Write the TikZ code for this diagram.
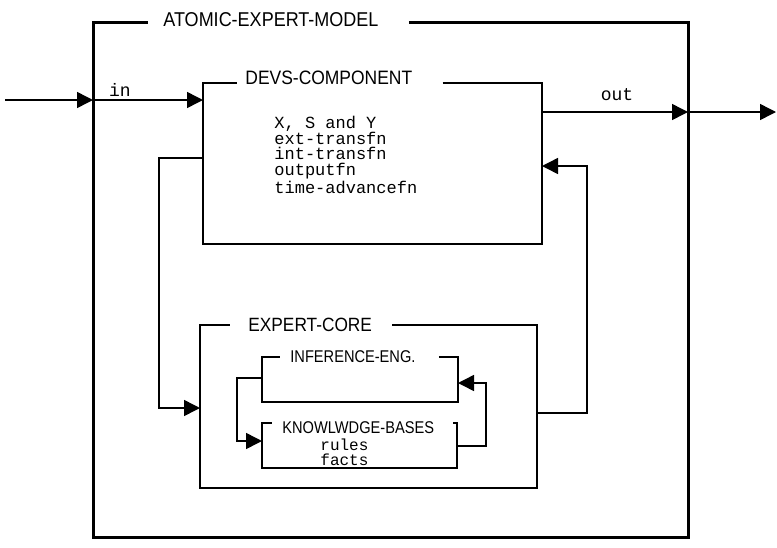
\documentclass[tikz,border=0pt]{standalone}
\usepackage{fontspec}
\usepackage{tikz}
\usetikzlibrary{arrows.meta, fit, calc}
\newfontfamily\titlefont[FakeStretch=0.9]{Liberation Sans}
\newfontfamily\narrowfont[FakeStretch=0.86]{Liberation Sans}
\newfontfamily\codefont{Liberation Mono}

\begin{document}
\begin{tikzpicture}[x=0.5pt, y=-0.5pt,
    box/.style={rectangle, inner sep=0pt, outer sep=0pt},
    title/.style={anchor=west, inner sep=0pt, font=\titlefont\fontsize{9.7}{11}\selectfont},
    subtitle/.style={anchor=west, inner sep=0pt, font=\narrowfont\fontsize{8.5}{10}\selectfont},
    code/.style={inner sep=0pt, align=left, font=\codefont\fontsize{8.5}{7.75}\selectfont},
    frame/.style={line width=0.8pt, line join=miter},
    link/.style={line width=0.75pt},
    arr/.style={link, -{Triangle[length=8pt, width=8pt]}}]

  \useasboundingbox (0,0) rectangle (777,547);

  % boxes
  \node[box, fit={(93,22) (688,537)}] (model) {};
  \node[box, fit={(203,83) (542,244)}] (devs) {};
  \node[box, fit={(200,325) (537,488)}] (core) {};
  \node[box, fit={(262,357) (458,402)}] (infeng) {};
  \node[box, fit={(262,423) (457,468)}] (kbases) {};

  % titles on the top edges
  \node[title, font=\titlefont\fontsize{10}{12}\selectfont] (modeltitle) at (163,20) {ATOMIC-EXPERT-MODEL};
  \node[title] (devstitle) at (245,78) {DEVS-COMPONENT};
  \node[title, font=\titlefont\fontsize{9.6}{11}\selectfont] (coretitle) at (248,325) {EXPERT-CORE};
  \node[subtitle] (inftitle) at (290,357) {INFERENCE-ENG.};
  \node[subtitle] (kbtitle) at (282,428) {KNOWLWDGE-BASES};

  % frames, open where the titles are
  \draw[frame, line width=1.5pt, shorten <=15pt, shorten >=7.5pt]
    (modeltitle.east |- model.north) -- (model.north east) -- (model.south east)
    -- (model.south west) -- (model.north west) -- (modeltitle.west |- model.north);
  \draw[frame, line width=1pt, shorten <=15pt, shorten >=4pt]
    (devstitle.east |- devs.north) -- (devs.north east) -- (devs.south east)
    -- (devs.south west) -- (devs.north west) -- (devstitle.west |- devs.north);
  \draw[frame, shorten <=10pt, shorten >=9pt]
    (coretitle.east |- core.north) -- (core.north east) -- (core.south east)
    -- (core.south west) -- (core.north west) -- (coretitle.west |- core.north);
  \draw[frame, shorten <=11.5pt, shorten >=5pt]
    (inftitle.east |- infeng.north) -- (infeng.north east) -- (infeng.south east)
    -- (infeng.south west) -- (infeng.north west) -- (inftitle.west |- infeng.north);
  \draw[frame, shorten <=9.5pt, shorten >=5pt]
    (kbtitle.east |- kbases.north) -- (kbases.north east) -- (kbases.south east)
    -- (kbases.south west) -- (kbases.north west) -- (kbtitle.west |- kbases.north);

  % contents
  \node[code, anchor=north west] (devstext) at (274,116)
    {X, S and Y\\ext-transfn\\int-transfn\\outputfn\\time-advancefn};
  \node[code, anchor=north west, font=\codefont\fontsize{8}{7.6}\selectfont] (kbtext) at (320,438)
    {rules\\facts};

  % port labels
  \node[code, font=\codefont\fontsize{9}{11}\selectfont] (inlabel) at (120,90) {in};
  \node[code, font=\codefont\fontsize{9}{11}\selectfont] (outlabel) at (617,95) {out};

  % input and output
  \coordinate (inport) at (5,100);
  \coordinate (outport) at (776,112);
  \draw[arr] (inport) -- (inport -| model.west);
  \draw[arr] (inport -| model.west) -- (inport -| devs.west);
  \draw[arr] (outport -| devs.east) -- (outport -| model.east);
  \draw[arr] (outport -| model.east) -- (outport);

  % feedback between devs and core
  \coordinate (leftbend) at (159,158);
  \coordinate (leftfoot) at (159,408);
  \draw[arr] (leftbend -| devs.west) -- (leftbend) -- (leftfoot) -- (leftfoot -| core.west);
  \coordinate (rightfoot) at (587,413);
  \coordinate (rightbend) at (587,166);
  \draw[arr] (rightfoot -| core.east) -- (rightfoot) -- (rightbend) -- (rightbend -| devs.east);

  % loop between inference engine and knowledge bases
  \coordinate (kbbend) at (237,378);
  \coordinate (kbfoot) at (237,441);
  \draw[arr] (kbbend -| infeng.west) -- (kbbend) -- (kbfoot) -- (kbfoot -| kbases.west);
  \coordinate (inffoot) at (486,446);
  \coordinate (infbend) at (486,383);
  \draw[arr] (inffoot -| kbases.east) -- (inffoot) -- (infbend) -- (infbend -| infeng.east);
\end{tikzpicture}
\end{document}
